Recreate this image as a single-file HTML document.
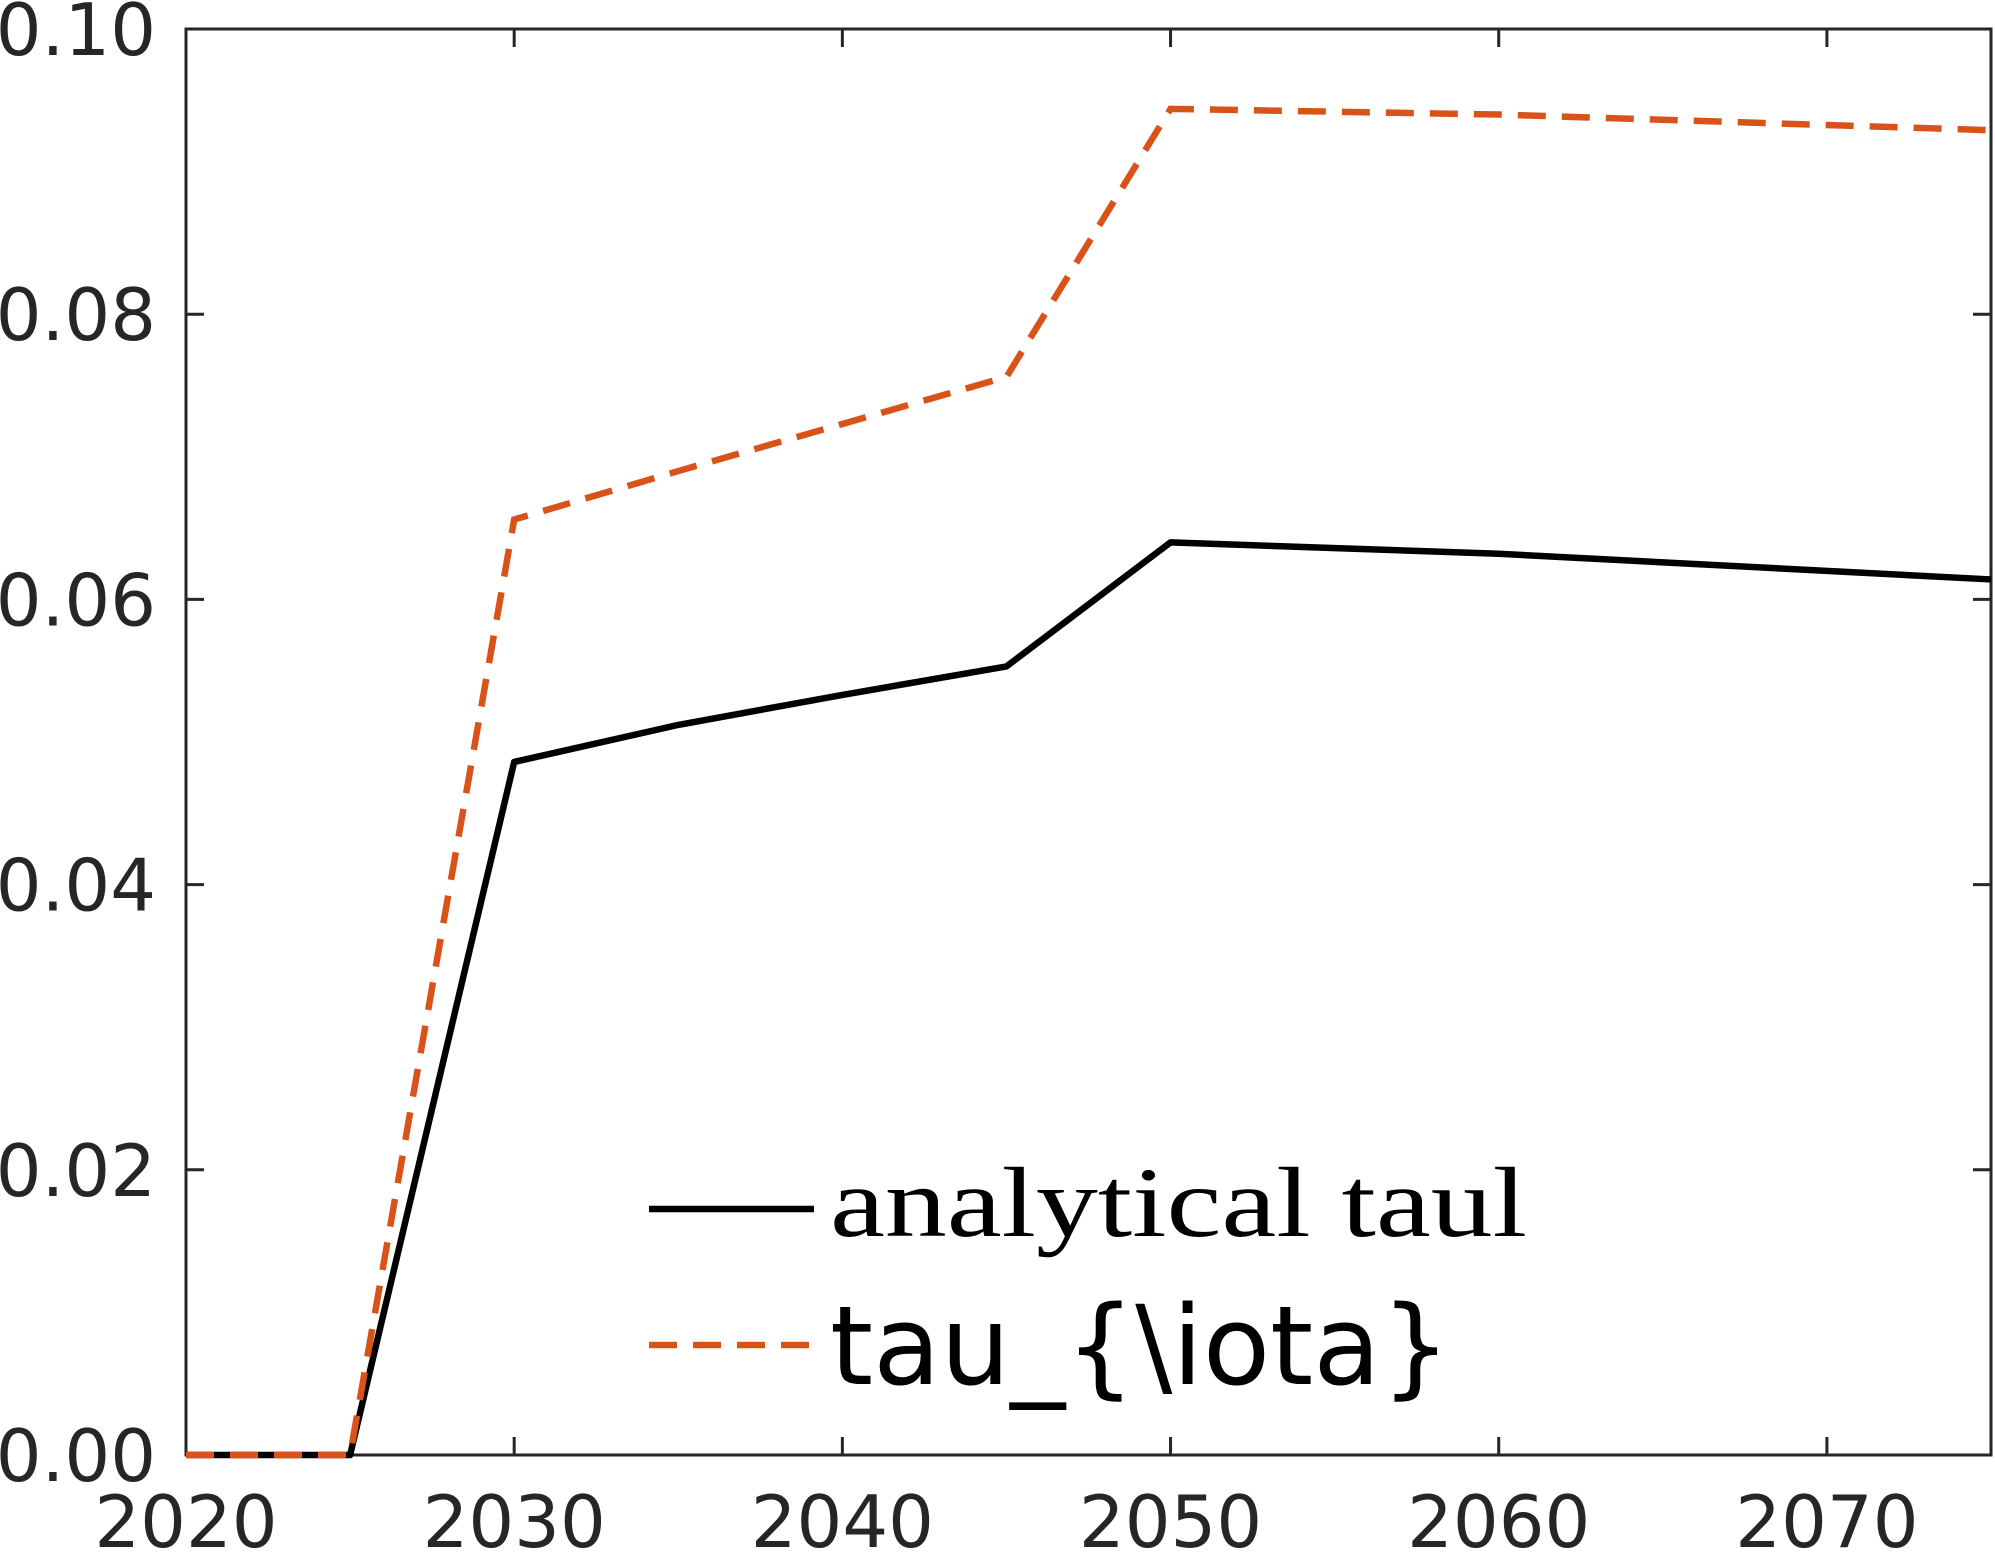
<!DOCTYPE html>
<html><head><meta charset="utf-8"><style>
html,body{margin:0;padding:0;background:#fff;}
svg{display:block;}
</style></head><body>
<svg id="chart" width="1995" height="1554" xmlns="http://www.w3.org/2000/svg"></svg>
<script>
const years = [2020, 2025, 2030, 2035, 2040, 2045, 2050, 2060, 2075];
const analyticalTaul = [0, 0, 0.0486, 0.0512, 0.0533, 0.0553, 0.0640, 0.0632, 0.0614];
const tauIota = [0, 0, 0.0656, 0.0690, 0.0723, 0.0756, 0.0944, 0.0940, 0.0929];
const xTicks = [2020, 2030, 2040, 2050, 2060, 2070];
const yTicks = [0, 0.02, 0.04, 0.06, 0.08, 0.10];
const yTickLabels = ["0.00", "0.02", "0.04", "0.06", "0.08", "0.10"];

const svg = document.getElementById('chart');
const NS = 'http://www.w3.org/2000/svg';
const L = 186, R = 1991, T = 29, B = 1455;
const x = v => L + (v - 2020) / 55 * (R - L);
const y = v => B - v / 0.10 * (B - T);
function mk(tag, attrs, parent) {
  const e = document.createElementNS(NS, tag);
  for (const k in attrs) e.setAttribute(k, attrs[k]);
  (parent || svg).appendChild(e);
  return e;
}
const axes = mk('g', {});


xTicks.forEach(t => {
  const tk = mk('path', {d: `M${x(t)} ${B}V${B-18}M${x(t)} ${T}V${T+18}`, stroke: '#262626', 'stroke-width': 3}, axes);
  
  
  const lb = mk('text', {x: x(t), y: 1547, 'text-anchor': 'middle', 'font-family': 'DejaVu Sans, Liberation Sans, sans-serif', 'font-size': 72, fill: '#262626'}, axes);
  lb.textContent = t;
  
  
});
yTicks.forEach((t, i) => {
  const tk = mk('path', {d: `M${L} ${y(t)}H${L+18}M${R} ${y(t)}H${R-18}`, stroke: '#262626', 'stroke-width': 3}, axes);
  
  
  const lb = mk('text', {x: 156, y: y(t) + 26, 'text-anchor': 'end', 'font-family': 'DejaVu Sans, Liberation Sans, sans-serif', 'font-size': 72, fill: '#262626'}, axes);
  lb.textContent = yTickLabels[i];
  
  
});
const frame = mk('rect', {x: L, y: T, width: R - L, height: B - T, fill: 'none', stroke: '#262626', 'stroke-width': 3}, axes);



const pts = arr => years.map((yr, i) => `${x(yr)},${y(arr[i])}`).join(' ');
const l1 = mk('polyline', {points: pts(analyticalTaul), fill: 'none', stroke: '#000', 'stroke-width': 6.5, 'stroke-linejoin': 'round'});


const l2 = mk('polyline', {points: pts(tauIota), fill: 'none', stroke: '#D95319', 'stroke-width': 6.5, 'stroke-dasharray': '28 16'});



const lg = mk('g', {});


const e1 = mk('line', {x1: 649, x2: 814, y1: 1209, y2: 1209, stroke: '#000', 'stroke-width': 6.5}, lg);


const t1 = mk('text', {x: 830, y: 1236, 'font-family': 'Liberation Serif, DejaVu Serif, serif', 'font-size': 100, fill: '#000', textLength: 697, lengthAdjust: 'spacingAndGlyphs'}, lg);
t1.textContent = 'analytical taul';


const e2 = mk('line', {x1: 649, x2: 814, y1: 1345, y2: 1345, stroke: '#D95319', 'stroke-width': 6.5, 'stroke-dasharray': '28 16'}, lg);


const t2 = mk('text', {x: 830, y: 1384, 'font-family': 'DejaVu Sans, Liberation Sans, sans-serif', 'font-size': 110, fill: '#000'}, lg);
t2.textContent = 'tau_{\\iota}';


</script>
</body></html>
